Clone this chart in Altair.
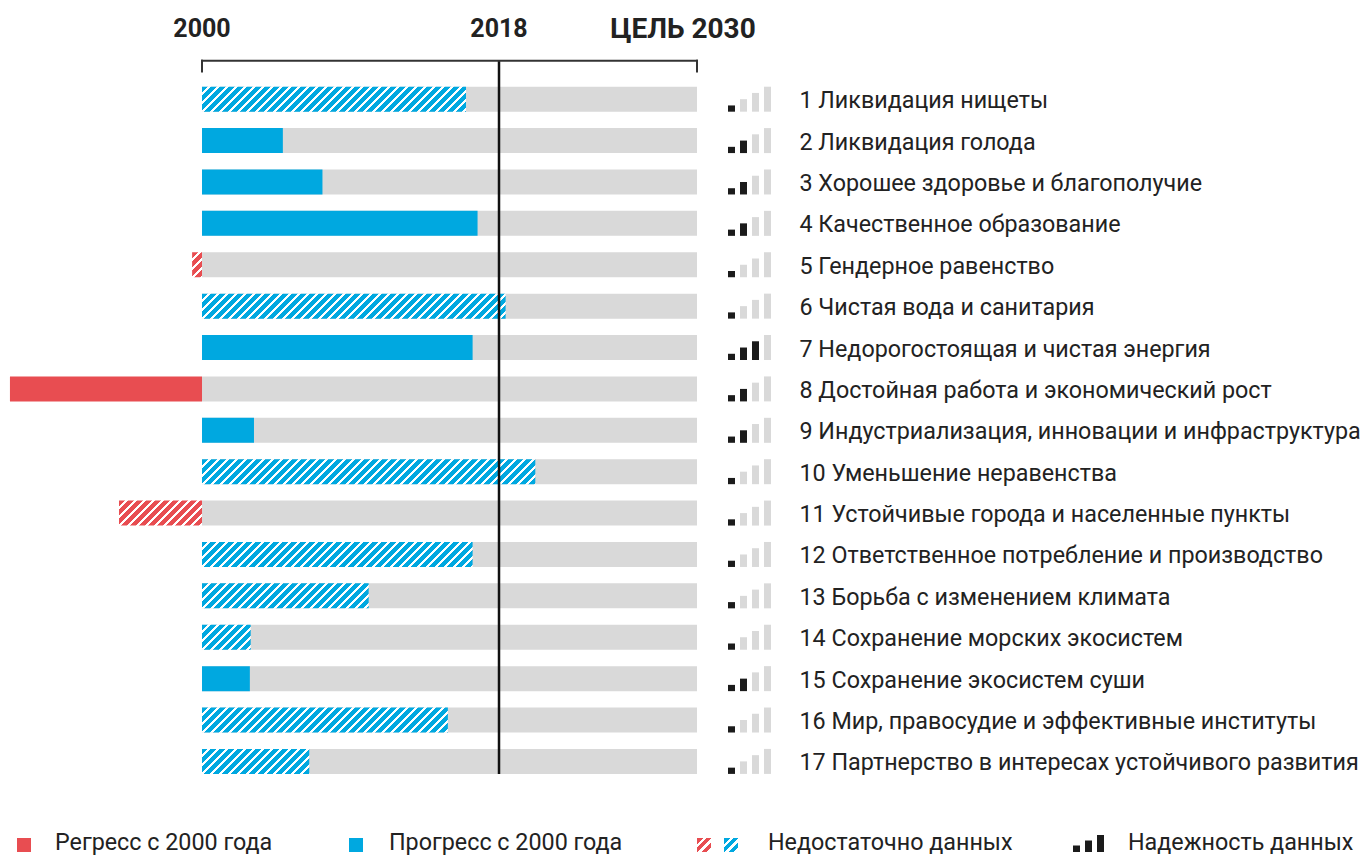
import altair as alt
import pandas as pd

# ---------------- data ----------------
goals = list(range(1, 18))
labels = [
    "Ликвидация нищеты",
    "Ликвидация голода",
    "Хорошее здоровье и благополучие",
    "Качественное образование",
    "Гендерное равенство",
    "Чистая вода и санитария",
    "Недорогостоящая и чистая энергия",
    "Достойная работа и экономический рост",
    "Индустриализация, инновации и инфраструктура",
    "Уменьшение неравенства",
    "Устойчивые города и населенные пункты",
    "Ответственное потребление и производство",
    "Борьба с изменением климата",
    "Сохранение морских экосистем",
    "Сохранение экосистем суши",
    "Мир, правосудие и эффективные институты",
    "Партнерство в интересах устойчивого развития",
]
# progress expressed on the 2000 -> 2030 time scale
values = [2016.0, 2004.9, 2007.3, 2016.7, 1999.4, 2018.4, 2016.4, 1988.36, 2003.15,
          2020.2, 1994.97, 2016.4, 2010.1, 2002.95, 2002.9, 2014.9, 2006.5]
insufficient = [True, False, False, False, True, True, False, False, False,
                True, True, True, True, True, False, True, True]
reliability = [1, 2, 2, 2, 1, 1, 3, 2, 2, 1, 1, 1, 1, 1, 2, 1, 1]
tick_years = [2000, 2018, 2030]
tick_labels = ["2000", "2018", "ЦЕЛЬ 2030"]
legend_labels = ["Регресс с 2000 года", "Прогресс с 2000 года",
                 "Недостаточно данных", "Надежность данных"]

# ---------------- layout / style ----------------
W, H = 1353, 847
X_DOMAIN = [1988.242, 2070.242]
PX_PER_YEAR = W / (X_DOMAIN[1] - X_DOMAIN[0])
Y_RANGE = [70.5, 774.1]
PITCH = (Y_RANGE[1] - Y_RANGE[0]) / 17
PAD = 0.198
BAR_H = PITCH * (1 - 2 * PAD)
BASE, GOAL = tick_years[0], tick_years[-1]

BLUE = "#00a8e0"
RED = "#e84d51"
GRAY = "#d9d9d9"
DARK = "#1b1b1b"
TXT = "#222222"
FONT = "Roboto"
LABEL_SIZE = 23.3


def hatch(color, w_px, h_px, period=9.0, white=3.0):
    """Diagonal '/' stripes as a linear gradient in bounding-box units."""
    L = w_px + h_px
    r = h_px / w_px
    k = (1 + r) / (1 + r * r)
    stops = []
    pos = 0.0
    while pos < L:
        a = pos / L
        b = min((pos + period - white) / L, 1.0)
        stops.append({"offset": round(a, 5), "color": color})
        stops.append({"offset": round(b, 5), "color": color})
        if b < 1.0:
            c = min((pos + period) / L, 1.0)
            stops.append({"offset": round(b, 5), "color": "#ffffff"})
            stops.append({"offset": round(c, 5), "color": "#ffffff"})
        pos += period
    return {"gradient": "linear", "x1": 0, "y1": 0,
            "x2": round(k, 5), "y2": round(k * r, 5), "stops": stops}


df = pd.DataFrame({
    "goal": goals,
    "label": [f"{g} {t}" for g, t in zip(goals, labels)],
    "value": values,
    "insufficient": insufficient,
    "rel": reliability,
})

xs = alt.Scale(domain=X_DOMAIN, nice=False, zero=False)
ys = alt.Scale(domain=[0, 17], range=Y_RANGE, nice=False, zero=False)

base = alt.Chart(df).transform_calculate(
    top=f"datum.goal - 1 + {PAD}",
    bot=f"datum.goal - {PAD}",
    mid="datum.goal - 0.5",
    start=str(BASE),
    end=str(GOAL),
)

bg = base.mark_rect(color=GRAY).encode(
    x=alt.X("start:Q", scale=xs, axis=None),
    x2="end:Q",
    y=alt.Y("top:Q", scale=ys, axis=None),
    y2="bot:Q",
)

conds = []
for g, v, ins in zip(goals, values, insufficient):
    col = RED if v < BASE else BLUE
    if ins:
        val = hatch(col, abs(v - BASE) * PX_PER_YEAR, BAR_H)
    else:
        val = col
    conds.append({"test": f"datum.goal == {g}", "value": val})

bars = base.mark_rect().encode(
    x=alt.X("start:Q", scale=xs, axis=None),
    x2="value:Q",
    y=alt.Y("top:Q", scale=ys, axis=None),
    y2="bot:Q",
    fill=alt.FillValue(BLUE, condition=conds),
)

# reliability icons
icon_rows = []
for g, r in zip(goals, reliability):
    for k in range(4):
        icon_rows.append({"goal": g, "k": k, "on": 1 if k < r else 0})
icons = alt.Chart(pd.DataFrame(icon_rows)).transform_calculate(
    kx="datum.k + 7/12",
    bot=f"datum.goal - {PAD}",
    top=f"datum.goal - {PAD} - {1 - 2 * PAD} * (datum.k + 1) / 4",
).mark_rect().encode(
    x=alt.X("k:Q", scale=alt.Scale(domain=[0, 4], range=[720, 768], nice=False, zero=False), axis=None),
    x2="kx:Q",
    y=alt.Y("top:Q", scale=ys, axis=None),
    y2="bot:Q",
    fill=alt.Fill("on:N", scale=alt.Scale(domain=[0, 1], range=[GRAY, DARK]), legend=None),
)

text = base.mark_text(align="left", baseline="middle", font=FONT, fontSize=LABEL_SIZE,
                      color=TXT, dy=2).encode(
    x=alt.value(791.5),
    y=alt.Y("mid:Q", scale=ys, axis=None),
    text="label:N",
)

# top bracket + 2018 line
tick_df = pd.DataFrame({"year": tick_years, "label": tick_labels})
bracket = alt.Chart(pd.DataFrame({"a": [BASE], "b": [GOAL]})).mark_rule(
    color="#333333", strokeWidth=2, strokeCap="square").encode(
    x=alt.X("a:Q", scale=xs, axis=None), x2="b:Q", y=alt.value(52.7))
bracket_ends = alt.Chart(tick_df).transform_filter(
    f"datum.year == {BASE} || datum.year == {GOAL}").mark_rule(
    color="#333333", strokeWidth=2, strokeCap="square").encode(
    x=alt.X("year:Q", scale=xs, axis=None), y=alt.value(52.7), y2=alt.value(63.5))
now_line = alt.Chart(tick_df).transform_filter("datum.year == 2018").mark_rule(
    color="#111111", strokeWidth=2.5).encode(
    x=alt.X("year:Q", scale=xs, axis=None), y=alt.value(52.7), y2=alt.value(766))

head_small = alt.Chart(tick_df).transform_filter(f"datum.year != {GOAL}").mark_text(
    font=FONT, fontWeight="bold", fontSize=25, color=TXT, baseline="middle").encode(
    x=alt.X("year:Q", scale=xs, axis=None), y=alt.value(21), text="label:N")
head_goal = alt.Chart(tick_df).transform_filter(f"datum.year == {GOAL}").mark_text(
    font=FONT, fontWeight="bold", fontSize=28, color=TXT, baseline="middle", dx=-14).encode(
    x=alt.X("year:Q", scale=xs, axis=None), y=alt.value(22), text="label:N")

# legend
LEG_Y0, LEG_Y1 = 830, 844
leg_layers = []
for lab, lx in zip(legend_labels, [47, 381, 760, 1120]):
    leg_layers.append(
        alt.Chart(pd.DataFrame({"t": [lab]})).mark_text(
            align="left", baseline="alphabetic", font=FONT, fontSize=LABEL_SIZE, color=TXT).encode(
            x=alt.value(lx), y=alt.value(842), text="t:N"))
one = pd.DataFrame({"i": [0]})
def sw(x0, x1, y0, y1, fill):
    return alt.Chart(one).mark_rect(fill=fill).encode(
        x=alt.value(x0), x2=alt.value(x1), y=alt.value(y0), y2=alt.value(y1))
leg_layers += [
    sw(9, 23, LEG_Y0, LEG_Y1, RED),
    sw(341, 355, LEG_Y0, LEG_Y1, BLUE),
    sw(689, 703, LEG_Y0, LEG_Y1, hatch(RED, 14, 14)),
    sw(716, 730, LEG_Y0, LEG_Y1, hatch(BLUE, 14, 14)),
    sw(1065, 1072, LEG_Y1 - 6.5, LEG_Y1, DARK),
    sw(1077, 1084, LEG_Y1 - 11.5, LEG_Y1, DARK),
    sw(1089, 1096, LEG_Y1 - 17, LEG_Y1, DARK),
]

chart = alt.layer(
    bg, bars, now_line, bracket, bracket_ends, icons, text, head_small, head_goal, *leg_layers
).resolve_scale(x="independent").properties(
    width=W, height=H, autosize=alt.AutoSizeParams(type="none"), padding=0,
    background="white",
).configure_view(stroke=None)

chart.save("out.html", embed_options={"renderer": "svg", "actions": False})
